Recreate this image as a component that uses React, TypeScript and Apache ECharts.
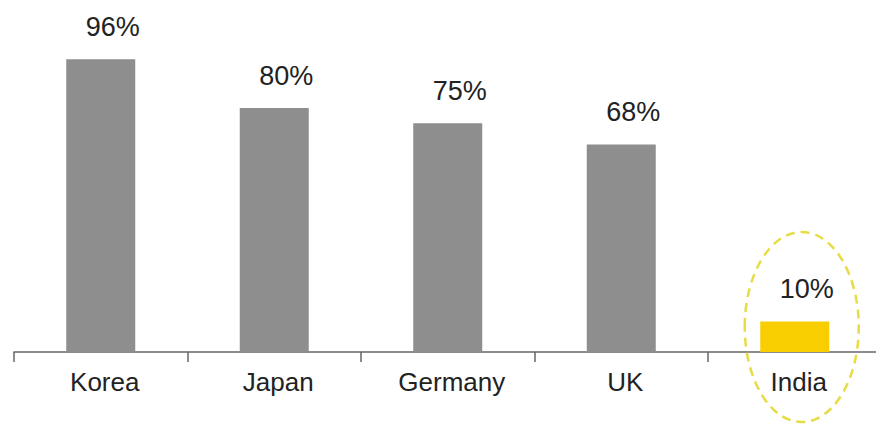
import React, { useEffect, useRef } from "react";
import * as echarts from "echarts";

const categories = ["Korea", "Japan", "Germany", "UK", "India"];
const values = [96, 80, 75, 68, 10];
const highlight = "India";

export default function App() {
  const ref = useRef<HTMLDivElement>(null);
  useEffect(() => {
    document.body.style.margin = "0";
    document.body.style.overflow = "hidden";
    document.documentElement.style.overflow = "hidden";
    const chart = echarts.init(ref.current!, null, { renderer: "svg" });
    chart.setOption({
      animation: false,
      backgroundColor: "#ffffff",
      grid: { left: 14, right: 0.5, top: 47, bottom: 73, containLabel: false },
      xAxis: {
        type: "category",
        data: categories,
        axisLine: { show: true, lineStyle: { color: "#666666", width: 1.5 } },
        axisTick: { show: true, length: 10, inside: false, lineStyle: { color: "#666666", width: 1.5 } },
        axisLabel: {
          color: "#222222",
          fontSize: 26,
          fontFamily: "Liberation Sans, Arial, sans-serif",
          margin: 17,
          padding: [0, 0, 0, 8],
        },
      },
      yAxis: {
        type: "value",
        min: 0,
        max: 100,
        show: false,
        splitLine: { show: false },
      },
      series: [
        {
          type: "bar",
          barWidth: 69,
          data: values.map((v, i) => ({
            value: v,
            itemStyle: { color: categories[i] === highlight ? "#F9CE00" : "#8E8E8E" },
          })),
          label: {
            show: true,
            position: "top",
            distance: 19,
            offset: [12, 0],
            formatter: "{c}%",
            color: "#222222",
            fontSize: 27,
            fontFamily: "Liberation Sans, Arial, sans-serif",
          },
        },
      ],
    });
    const idx = categories.indexOf(highlight);
    const p = chart.convertToPixel({ xAxisIndex: 0, yAxisIndex: 0 }, [idx, 0]) as number[];
    chart.setOption({
      graphic: [
        {
          type: "ellipse",
          shape: { cx: p[0] + 7, cy: p[1] - 25, rx: 57, ry: 95 },
          style: { fill: "none", stroke: "#E6DC45", lineWidth: 2.5, lineDash: [9, 6] },
          z: 10,
        },
      ],
    });
    return () => chart.dispose();
  }, []);
  return <div ref={ref} style={{ width: 882, height: 425 }} />;
}
